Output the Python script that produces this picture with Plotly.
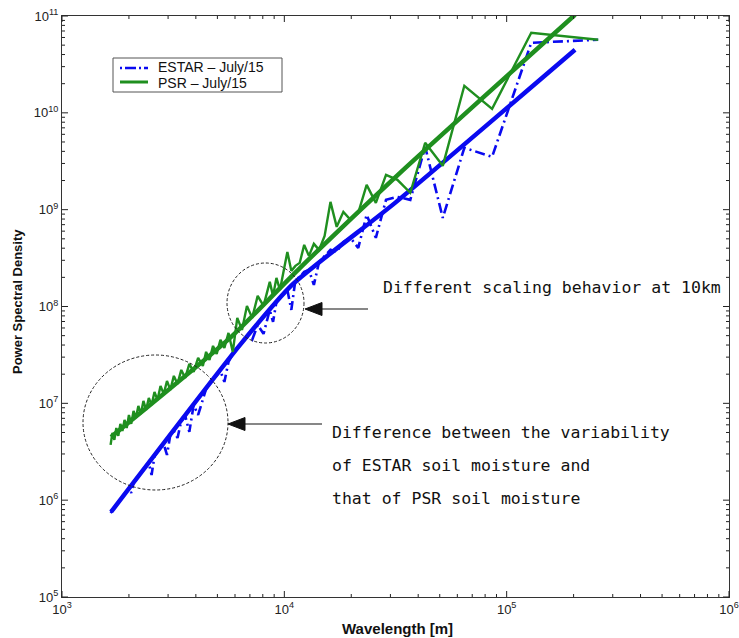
import math
import plotly.graph_objects as go

# ---------------- data ----------------
wavelength = [1654, 1686, 1720, 1755, 1792, 1830, 1870, 1911, 1955, 2000, 2048, 2098,
              2150, 2205, 2263, 2324, 2389, 2457, 2529, 2606, 2688, 2774, 2867, 2966,
              3071, 3185, 3308, 3440, 3583, 3739, 3909, 4095,
              4300, 4448, 4607, 4778, 4962, 5160, 5375, 5609, 5864, 6143, 6450, 6789,
              7167, 7588, 8063,
              8600, 8897, 9214, 9556, 9923, 10320, 10750, 11217, 11727, 12286, 12900,
              13579, 14333, 15176, 16125, 17200, 18429, 19846, 21500, 23455, 25800,
              28667, 32250, 36857, 43000, 51600, 64500, 86000, 129000, 258000]

estar_psd = [7.38e5, 7.92e5, 8.31e5, 8.92e5, 9.58e5, 1.005e6, 1.08e6, 1.16e6, 1.22e6,
             1.31e6, 1.19e6, 1.51e6, 1.62e6, 1.74e6, 1.91e6, 2.05e6, 2.20e6, 2.42e6,
             1.82e6, 2.86e6, 3.15e6, 3.46e6, 3.81e6, 2.93e6, 4.72e6, 5.19e6, 4.39e6,
             6.58e6, 7.41e6, 5.07e6, 9.63e6, 7.59e6,
             1.137e7, 1.409e7, 1.587e7, 1.745e7, 1.966e7, 2.161e7, 1.664e7, 2.678e7,
             3.239e7, 3.648e7, 4.208e7, 4.855e7, 4.520e7, 6.457e7, 5.213e7,
             9.226e7, 6.934e7, 1.116e8, 1.227e8, 1.350e8, 1.484e8, 9.226e7, 1.883e8,
             2.022e8, 2.278e8, 2.389e8, 1.672e8, 2.890e8, 3.334e8, 3.845e8, 3.666e8,
             4.650e8, 5.114e8, 4.033e8, 8.841e8, 5.114e8, 1.263e9, 1.356e9, 1.263e9,
             4.457e9, 8.234e8, 4.351e9, 3.513e9, 5.290e10, 5.680e10]

psr_psd = [3.72e6, 4.95e6, 4.19e6, 5.57e6, 4.61e6, 6.13e6, 5.19e6, 6.74e6, 5.57e6,
           7.59e6, 6.13e6, 8.35e6, 7.07e6, 9.40e6, 7.77e6, 1.059e7, 8.55e6, 1.137e7,
           9.63e6, 1.312e7, 1.084e7, 1.513e7, 1.251e7, 1.704e7, 1.376e7, 1.920e7,
           1.587e7, 2.214e7, 1.830e7, 2.554e7, 2.111e7, 2.945e7,
           2.435e7, 3.398e7, 2.808e7, 3.918e7, 3.239e7, 4.520e7, 3.736e7, 5.339e7,
           3.398e7, 7.627e7, 5.733e7, 1.015e8, 7.627e7, 1.287e8, 1.015e8,
           1.796e8, 1.287e8, 1.975e8, 1.484e8, 2.389e8, 3.666e8, 2.333e8, 2.627e8,
           2.822e8, 4.330e8, 3.334e8, 4.434e8, 3.845e8, 5.363e8, 1.204e9, 6.645e8,
           9.494e8, 7.849e8, 9.271e8, 1.805e9, 1.176e9, 2.289e9, 2.032e9, 1.492e9,
           4.900e9, 2.836e9, 1.902e10, 1.100e10, 6.709e10, 5.680e10]

estar_fit_x = [1662, 6320, 10830, 31480, 203000]
estar_fit_y = [7.55e5, 4.01e7, 1.67e8, 1.175e9, 4.48e10]

psr_fit_x = [1662, 5700, 11770, 33150, 203000]
psr_fit_y = [4.5e6, 4.74e7, 2.51e8, 2.40e9, 1.03e11]

x_ticks = [1e3, 1e4, 1e5, 1e6]
x_ticktext = ["10<sup>3</sup>", "10<sup>4</sup>", "10<sup>5</sup>", "10<sup>6</sup>"]
y_ticks = [1e5, 1e6, 1e7, 1e8, 1e9, 1e10, 1e11]
y_ticktext = ["10<sup>5</sup>", "10<sup>6</sup>", "10<sup>7</sup>", "10<sup>8</sup>",
              "10<sup>9</sup>", "10<sup>10</sup>", "10<sup>11</sup>"]
x_minor = [m * 10 ** e for e in range(3, 6) for m in range(2, 10)]
y_minor = [m * 10 ** e for e in range(5, 11) for m in range(2, 10)]

legend_labels = ["ESTAR \u2013 July/15", "PSR \u2013 July/15"]
x_title = "Wavelength [m]"
y_title = "Power Spectral Density"
note_10km = "Different scaling behavior at 10km"
note_var = ["Difference between the variability",
            "of ESTAR soil moisture and",
            "that of PSR soil moisture"]

# ---------------- styling ----------------
BLUE = "#0a0af0"
GREEN = "#1f8f1f"
W, H = 739, 638
ML, MR, MT, MB = 62, 10, 16, 41
PW, PH = W - ML - MR, H - MT - MB
X_RANGE, Y_RANGE = [3, 6], [5, 11]


def px(x):
    return (x - ML) / PW


def py(y):
    return (H - MB - y) / PH


fig = go.Figure()
fig.add_trace(go.Scatter(x=wavelength, y=estar_psd, mode="lines",
                         line=dict(color=BLUE, width=2.6, dash="10px,4px,2px,4px"),
                         showlegend=False))
fig.add_trace(go.Scatter(x=estar_fit_x, y=estar_fit_y, mode="lines",
                         line=dict(color=BLUE, width=4.5, shape="spline", smoothing=0.6),
                         showlegend=False))
fig.add_trace(go.Scatter(x=wavelength, y=psr_psd, mode="lines",
                         line=dict(color=GREEN, width=2.4),
                         showlegend=False))
fig.add_trace(go.Scatter(x=psr_fit_x, y=psr_fit_y, mode="lines",
                         line=dict(color=GREEN, width=4.5, shape="spline", smoothing=0.6),
                         showlegend=False))

tickfont = dict(family="Liberation Sans", size=13, color="#222")
base = dict(type="log", showgrid=False, zeroline=False, showline=True,
            linecolor="#333", linewidth=1, mirror=True, automargin=False,
            ticks="", tickmode="array", tickfont=tickfont)

fig.update_layout(
    xaxis=dict(range=X_RANGE, tickvals=x_ticks, ticktext=x_ticktext, **base),
    yaxis=dict(range=Y_RANGE, tickvals=y_ticks, ticktext=y_ticktext, **base),
)

shapes = []
# inward tick marks on all four sides (decades long, in-between values short)
tick_line = dict(color="#222", width=1)
for vals, length in [(x_ticks, 6), (x_minor, 3)]:
    for v in vals:
        xp = (math.log10(v) - X_RANGE[0]) / (X_RANGE[1] - X_RANGE[0])
        shapes.append(dict(type="line", xref="paper", yref="paper", layer="above",
                           x0=xp, x1=xp, y0=0, y1=length / PH, line=tick_line))
        shapes.append(dict(type="line", xref="paper", yref="paper", layer="above",
                           x0=xp, x1=xp, y0=1, y1=1 - length / PH, line=tick_line))
for vals, length in [(y_ticks, 6), (y_minor, 3)]:
    for v in vals:
        yp = (math.log10(v) - Y_RANGE[0]) / (Y_RANGE[1] - Y_RANGE[0])
        shapes.append(dict(type="line", xref="paper", yref="paper", layer="above",
                           x0=0, x1=length / PW, y0=yp, y1=yp, line=tick_line))
        shapes.append(dict(type="line", xref="paper", yref="paper", layer="above",
                           x0=1, x1=1 - length / PW, y0=yp, y1=yp, line=tick_line))

# circles
shapes.append(dict(type="circle", xref="paper", yref="paper",
                   x0=px(83), x1=px(228), y0=py(490), y1=py(355),
                   line=dict(color="#222", width=1, dash="3px,2px")))
shapes.append(dict(type="circle", xref="paper", yref="paper",
                   x0=px(227), x1=px(304), y0=py(343), y1=py(263),
                   line=dict(color="#222", width=1, dash="3px,2px")))
# arrows
for tip_x, tail_x, yy in [(305, 368, 309), (228, 322, 424)]:
    base_x = tip_x + 17
    shapes.append(dict(type="line", xref="paper", yref="paper",
                       x0=px(base_x), x1=px(tail_x), y0=py(yy), y1=py(yy),
                       line=dict(color="#111", width=1.2)))
    path = "M {},{} L {},{} L {},{} Z".format(px(tip_x), py(yy), px(base_x), py(yy - 6.5),
                                              px(base_x), py(yy + 6.5))
    shapes.append(dict(type="path", xref="paper", yref="paper", path=path,
                       fillcolor="#111", line=dict(color="#111", width=1)))
# legend box
shapes.append(dict(type="rect", xref="paper", yref="paper",
                   x0=px(113), x1=px(282), y0=py(92), y1=py(58),
                   line=dict(color="#555", width=1), fillcolor="white"))
shapes.append(dict(type="line", xref="paper", yref="paper",
                   x0=px(120), x1=px(148), y0=py(68), y1=py(68),
                   line=dict(color=BLUE, width=2.5, dash="2px,3px,11px,3px")))
shapes.append(dict(type="line", xref="paper", yref="paper",
                   x0=px(120), x1=px(148), y0=py(82), y1=py(82),
                   line=dict(color=GREEN, width=3)))

annotations = []
annotations.append(dict(xref="paper", yref="paper", x=px(156), y=py(67),
                        text=legend_labels[0], showarrow=False, xanchor="left",
                        yanchor="middle",
                        font=dict(family="Liberation Sans", size=14, color="#111")))
annotations.append(dict(xref="paper", yref="paper", x=px(156), y=py(83),
                        text=legend_labels[1], showarrow=False, xanchor="left",
                        yanchor="middle",
                        font=dict(family="Liberation Sans", size=14, color="#111")))
annotations.append(dict(xref="paper", yref="paper", x=px(381), y=py(287),
                        text=note_10km, showarrow=False, xanchor="left",
                        yanchor="middle",
                        font=dict(family="DejaVu Sans Mono", size=16.5, color="#111")))
for i, line in enumerate(note_var):
    annotations.append(dict(xref="paper", yref="paper", x=px(330), y=py(432 + 33 * i),
                            text=line, showarrow=False, xanchor="left",
                            yanchor="middle",
                            font=dict(family="DejaVu Sans Mono", size=16.5,
                                      color="#111")))
annotations.append(dict(xref="paper", yref="paper", x=px(397), y=py(628),
                        text="<b>" + x_title + "</b>", showarrow=False,
                        xanchor="center", yanchor="middle",
                        font=dict(family="Liberation Sans", size=15, color="#111")))
annotations.append(dict(xref="paper", yref="paper", x=px(17), y=py(302),
                        text="<b>" + y_title + "</b>", showarrow=False,
                        textangle=-90, xanchor="center", yanchor="middle",
                        font=dict(family="Liberation Sans", size=13, color="#111")))

fig.update_layout(width=W, height=H,
                  margin=dict(l=ML, r=MR, t=MT, b=MB, pad=0),
                  paper_bgcolor="white", plot_bgcolor="white",
                  showlegend=False, shapes=shapes, annotations=annotations)

fig.write_html("out.html")
